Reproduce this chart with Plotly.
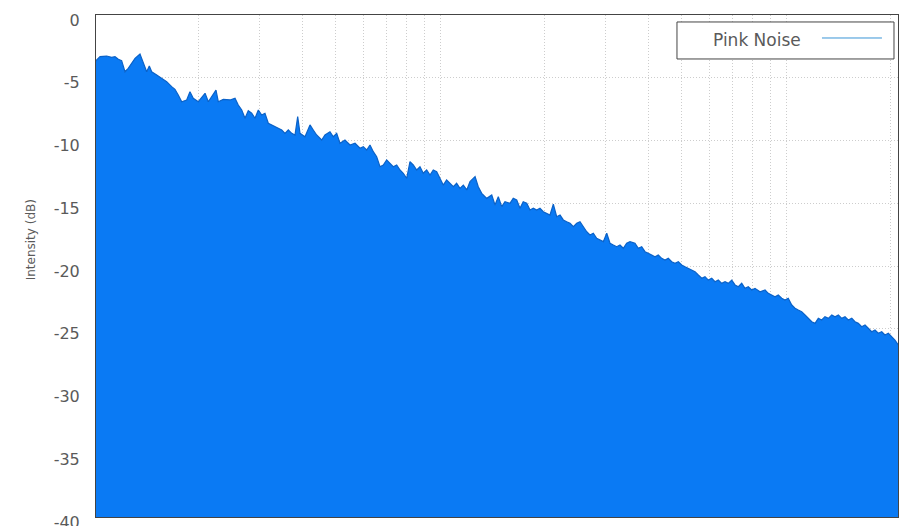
import plotly.graph_objects as go

# Pink noise spectrum: frequency (log axis, arbitrary units) and intensity in dB
FREQ = [
    1.007, 1.041, 1.088, 1.125, 1.150, 1.176, 1.202, 1.229, 1.256, 1.285,
    1.314, 1.358, 1.388, 1.420, 1.445, 1.468, 1.518, 1.569, 1.622, 1.677,
    1.714, 1.752, 1.793, 1.853, 1.894, 1.936, 2.002, 2.094, 2.140, 2.252,
    2.287, 2.364, 2.472, 2.556, 2.612, 2.673, 2.732, 2.792, 2.856, 2.920,
    2.985, 3.053, 3.120, 3.190, 3.263, 3.335, 3.410, 3.488, 3.565, 3.644,
    3.728, 3.810, 3.879, 3.939, 4.072, 4.210, 4.303, 4.401, 4.551, 4.651,
    4.809, 4.916, 5.028, 5.140, 5.313, 5.495, 5.681, 5.872, 6.002, 6.140,
    6.276, 6.415, 6.561, 6.708, 6.856, 7.013, 7.170, 7.328, 7.496, 7.663,
    7.833, 8.012, 8.190, 8.371, 8.564, 8.753, 8.947, 9.151, 9.357, 9.563,
    9.782, 10.00, 10.22, 10.45, 10.69, 10.93, 11.17, 11.42, 11.68, 11.95,
    12.21, 12.63, 12.90, 13.20, 13.65, 14.11, 14.42, 14.74, 15.08, 15.41,
    15.93, 16.28, 16.66, 17.03, 17.40, 17.81, 18.20, 18.61, 19.03, 19.45,
    19.89, 20.34, 20.79, 21.26, 21.74, 22.23, 22.72, 23.24, 23.76, 24.29,
    24.84, 25.39, 25.95, 26.55, 27.13, 27.74, 28.37, 29.00, 29.65, 30.33,
    31.00, 31.69, 32.42, 33.13, 33.87, 34.64, 35.41, 36.61, 37.42, 38.28,
    39.13, 39.99, 40.91, 41.82, 42.75, 43.72, 44.70, 45.69, 46.74, 47.78,
    48.84, 49.95, 51.07, 52.20, 53.40, 54.58, 55.79, 57.07, 58.33, 59.63,
    61.00, 62.35, 63.73, 65.20, 66.65, 68.12, 69.69, 71.24, 72.81, 74.47,
    76.12, 77.80, 79.60, 81.36, 84.12, 86.99, 88.87, 90.94, 92.95, 95.00,
    97.19, 99.33, 101.5, 103.9, 106.2, 108.5, 111.0, 113.5, 116.0, 118.7,
    121.3, 124.0, 126.8, 129.6, 132.6, 135.6, 138.6, 141.7, 144.9, 148.1,
    151.4, 154.9, 158.3, 161.8, 165.5, 169.2, 172.9, 176.9, 180.8, 184.8,
    189.1, 193.2, 197.6, 202.1, 206.5, 211.2,
]

INTENSITY_DB = [
    -3.72, -3.32, -3.27, -3.37, -3.32, -3.53, -3.64, -4.52, -4.25, -3.85,
    -3.45, -3.11, -3.85, -4.52, -4.06, -4.52, -4.78, -5.04, -5.31, -5.71,
    -5.92, -6.37, -6.91, -6.77, -6.11, -6.64, -6.91, -6.24, -6.91, -5.98,
    -6.91, -6.72, -6.77, -6.64, -7.17, -7.57, -8.23, -7.63, -7.83, -8.23,
    -7.57, -7.97, -7.83, -8.63, -8.76, -8.90, -9.03, -9.16, -9.43, -9.16,
    -9.43, -9.56, -8.10, -9.43, -9.70, -8.76, -9.16, -9.56, -9.96, -9.56,
    -9.30, -9.70, -9.43, -10.22, -9.96, -10.36, -10.22, -10.62, -10.49, -10.76,
    -10.36, -10.89, -11.29, -12.09, -11.95, -11.55, -11.82, -12.09, -11.95, -12.35,
    -12.61, -13.01, -11.69, -11.95, -12.35, -12.09, -12.61, -12.35, -12.75, -12.35,
    -12.49, -13.01, -13.55, -13.15, -13.41, -13.68, -13.41, -13.81, -13.55, -13.94,
    -13.28, -12.88, -13.68, -14.21, -14.61, -14.34, -15.14, -14.48, -15.27, -14.88,
    -15.00, -14.61, -14.74, -15.40, -14.88, -15.00, -15.54, -15.40, -15.54, -15.40,
    -15.67, -15.80, -15.94, -15.08, -16.07, -15.94, -16.33, -16.47, -16.60, -16.87,
    -16.60, -16.47, -16.87, -17.27, -17.53, -17.39, -17.79, -17.93, -18.06, -17.39,
    -18.19, -18.33, -18.46, -18.33, -18.59, -18.19, -18.06, -18.19, -18.59, -18.46,
    -18.86, -18.99, -19.12, -19.26, -19.12, -19.39, -19.52, -19.39, -19.66, -19.78,
    -19.66, -19.92, -20.06, -20.18, -20.32, -20.45, -20.72, -20.98, -20.85, -21.12,
    -20.98, -21.25, -21.12, -21.38, -21.25, -21.38, -21.12, -21.51, -21.65, -21.38,
    -21.78, -21.65, -21.91, -21.78, -22.05, -21.91, -22.18, -22.31, -22.45, -22.31,
    -22.57, -22.71, -22.57, -23.11, -23.37, -23.51, -23.64, -23.90, -24.17, -24.44,
    -24.57, -24.17, -24.30, -24.04, -24.17, -23.90, -24.04, -23.90, -24.17, -24.04,
    -24.30, -24.17, -24.44, -24.57, -24.84, -24.70, -24.96, -25.24, -25.10, -25.36,
    -25.24, -25.50, -25.36, -25.63, -25.90, -26.29,
]

FLOOR_DB = -40
Y_TICKS = [0, -5, -10, -15, -20, -25, -30, -35, -40]
Y_TICK_LABELS = ["0", "-5", "-10", "-15", "-20", "-25", "-30", "-35", "-40"]
X_GRID = [1, 2, 3, 4, 5, 6, 7, 8, 9, 10, 20, 30, 40, 50, 60, 70, 80, 90, 100, 200]
SERIES_NAME = "Pink Noise"

FILL_BLUE = "#0a7af4"
EDGE_BLUE = "#0b62c8"
KEY_BLUE = "#3a95d6"
FRAME = "#444444"
GRID = "#cdcdcd"
TEXT = "#5a5a5a"
FONT = "DejaVu Sans"

fig = go.Figure()

# floor of the filled region
fig.add_trace(go.Scatter(
    x=[FREQ[0], FREQ[-1]], y=[FLOOR_DB, FLOOR_DB],
    mode="lines", line=dict(width=0, color=FILL_BLUE),
    showlegend=False, hoverinfo="skip",
))

# spectrum, filled down to the floor
fig.add_trace(go.Scatter(
    x=FREQ, y=INTENSITY_DB, name=SERIES_NAME,
    mode="lines", line=dict(color=EDGE_BLUE, width=1.2),
    fill="tonexty", fillcolor=FILL_BLUE, showlegend=False,
))

fig.update_layout(
    width=900, height=526,
    margin=dict(l=96, r=2, t=15, b=9, autoexpand=False),
    paper_bgcolor="white", plot_bgcolor="white",
    font=dict(family=FONT, color=TEXT),
    xaxis=dict(
        type="log", range=[0.0058, 2.3237], automargin=False,
        tickvals=X_GRID, showticklabels=False, ticks="",
        showgrid=True, gridcolor=GRID, griddash="1px,2px", gridwidth=1,
        showline=True, linecolor=FRAME, linewidth=1, mirror=True,
        zeroline=False,
    ),
    yaxis=dict(
        range=[FLOOR_DB, 0], automargin=False,
        tickvals=Y_TICKS, ticktext=Y_TICK_LABELS, ticks="",
        ticklabelstandoff=12, ticklabelshift=5,
        ticklabeloverflow="allow",
        tickfont=dict(family=FONT, size=16, color=TEXT),
        showgrid=True, gridcolor=GRID, griddash="1px,2px", gridwidth=1,
        showline=True, linecolor=FRAME, linewidth=1, mirror=True,
        zeroline=False,
    ),
)

# vertical axis title
fig.add_annotation(
    text="Intensity (dB)", textangle=-90,
    xref="paper", yref="paper", x=-0.093, y=0.552,
    showarrow=False, font=dict(family=FONT, size=12, color=TEXT),
)

# key box in the top right corner: label on the left, line sample on the right
fig.add_shape(
    type="rect", xref="paper", yref="paper",
    x0=0.7244, x1=0.9950, y0=0.9124, y1=0.9861,
    line=dict(color=FRAME, width=1), fillcolor="white", layer="above",
)
fig.add_annotation(
    text=SERIES_NAME, xref="paper", yref="paper",
    x=0.8815, y=0.9502, xanchor="right", yanchor="middle",
    showarrow=False, font=dict(family=FONT, size=17, color=TEXT),
)
fig.add_shape(
    type="line", xref="paper", yref="paper",
    x0=0.9052, x1=0.9800, y0=0.9542, y1=0.9542,
    line=dict(color=KEY_BLUE, width=1), layer="above",
)

fig.write_html("out.html")
